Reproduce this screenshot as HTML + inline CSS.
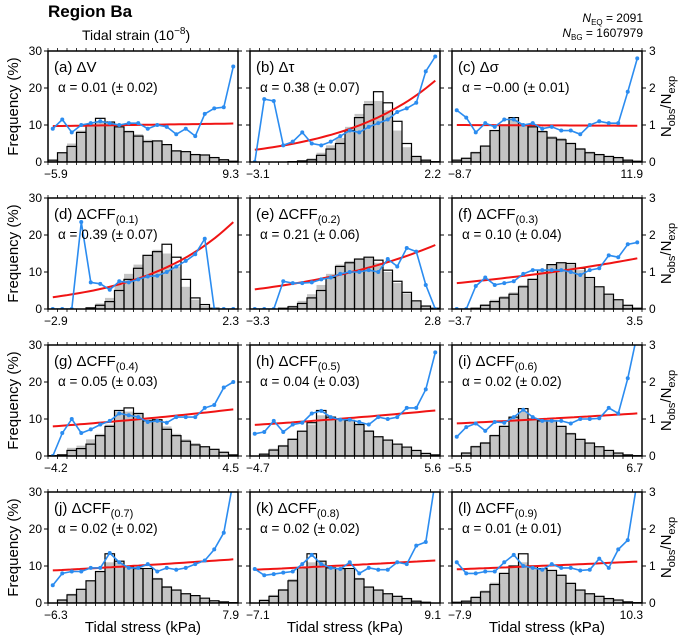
<!DOCTYPE html>
<html><head><meta charset="utf-8"><style>
body{margin:0;background:#fff}
svg{font-family:"Liberation Sans",sans-serif;display:block}
</style></head><body>
<svg id="chart" width="685" height="640" viewBox="0 0 685 640">
<text x="48" y="17" font-size="17" font-weight="bold">Region Ba</text>
<text x="82" y="40" font-size="14">Tidal strain (10<tspan dy="-6" font-size="10">−8</tspan><tspan dy="6">)</tspan></text>
<text x="643" y="22" font-size="12" text-anchor="end"><tspan font-style="italic">N</tspan><tspan font-size="8" dy="3">EQ</tspan><tspan dy="-3"> = 2091</tspan></text>
<text x="643" y="37" font-size="12" text-anchor="end"><tspan font-style="italic">N</tspan><tspan font-size="8" dy="3">BG</tspan><tspan dy="-3"> = 1607979</tspan></text>
<g id="panels"></g>
</svg>
<script>
const labels=["(a) ΔV","(b) Δτ","(c) Δσ","(d) ΔCFF","(e) ΔCFF","(f) ΔCFF","(g) ΔCFF","(h) ΔCFF","(i) ΔCFF","(j) ΔCFF","(k) ΔCFF","(l) ΔCFF"];
const subs=["","","","(0.1)","(0.2)","(0.3)","(0.4)","(0.5)","(0.6)","(0.7)","(0.8)","(0.9)"];
const alphas=["α = 0.01 (± 0.02)","α = 0.38 (± 0.07)","α = −0.00 (± 0.01)","α = 0.39 (± 0.07)","α = 0.21 (± 0.06)","α = 0.10 (± 0.04)","α = 0.05 (± 0.03)","α = 0.04 (± 0.03)","α = 0.02 (± 0.02)","α = 0.02 (± 0.02)","α = 0.02 (± 0.02)","α = 0.01 (± 0.01)"];
const xMinLabels=["−5.9","−3.1","−8.7","−2.9","−3.3","−3.7","−4.2","−4.7","−5.5","−6.3","−7.1","−7.9"];
const xMaxLabels=["9.3","2.2","11.9","2.3","2.8","3.5","4.5","5.6","6.7","7.9","9.1","10.3"];
const freqTicks=[0,10,20,30];
const ratioTicks=[0,1,2,3];
const obsFreq=[
[0.5,2.5,4.2,8,10,11.8,10.8,9.5,8.2,7,5.5,5.7,4.7,3,2.8,2,1.9,1.2,0.6,0.2],
[0,0,0,0,0.1,0.3,0.6,1.8,3.5,5,8.5,12,15.5,19,16,11,5,1.5,0.5,0.1],
[0.5,1,2.5,4.3,8.5,10,12,10,9.5,8.2,6.5,6,5,3.5,2.5,2,1.5,1.2,0.5,0.2],
[0,0,0,0,0.3,1,2,5,8,11,14.5,15.5,17.5,14,8,3,1.2,0.2,0,0],
[0,0,0,0.2,0.6,1.5,3,5,8.5,11.5,12.5,13.5,14,13.2,10.5,7.5,4.5,2.2,0.8,0.2],
[0,0,0.2,1,2,3,4,6,8,10.5,12,12.5,12.3,11,8.5,6,4,2.5,1,0.2],
[0.1,0.3,1.5,2,3.2,5.5,8,12.3,13,11.5,9.5,9.8,7.2,5.5,4,3,2.5,1.8,1,0.3],
[0,0.5,1.6,2.7,4.5,6.7,9,12.3,10.5,10,9.6,8.5,6.7,5.2,4.3,3.2,2.4,1.5,0.7,0.3],
[0,0.8,2.5,3.5,5.5,8,10.5,12.8,10,9.5,9.5,8,6,4.5,3.5,2.5,1.5,0.8,0.3,0.1],
[0,0.8,2.2,3.7,6,8.5,13.3,11.3,9.8,9.3,9.3,6.5,4.3,3.5,2.5,2,1.3,0.6,0.3,0.1],
[0,0.7,1.8,3.5,6,9.5,13.3,11.3,9.5,9.3,9.3,6.5,4.3,3.5,2.5,1.8,1.2,0.5,0.2,0],
[0.2,0.5,1.5,3,5,8,10,13.3,10,9.3,8.8,7.5,5.3,3.5,2.5,1.8,1.2,0.8,0.3,0.1]];
const expFreq=[
[0.5,2.5,5,8.5,10,11,10.5,9.5,8.5,7.5,6,5.8,4.8,3.2,2.8,2.2,1.8,1.2,0.8,0.3],
[0,0,0,0,0.1,0.3,1,2.5,4.5,6.5,9.5,13,16.5,16.5,14,8.5,4,1.5,0.4,0.1],
[0.5,1.2,2.8,4.5,8.5,10,11.5,10,9.5,8.5,7,6.5,5.2,3.8,2.8,2.2,1.6,1.2,0.6,0.2],
[0,0,0,0,0.5,1.5,3,6.5,9.5,12,14.5,16,15,11.5,6,2.5,0.8,0.2,0,0],
[0,0,0,0.3,0.9,2.2,4,6.5,9.5,12,13,13.5,13.8,12.5,10,7,4.2,2,0.8,0.2],
[0,0,0.3,1.3,2.5,3.5,4.5,6.5,8.2,10.5,12,12.3,12,10.5,8.2,5.8,3.8,2.3,1,0.2],
[0.1,0.5,2.2,2.8,4.5,6,8.5,12,12,11.5,10,9.5,8,6,4.5,3.5,2.5,1.8,1.2,0.4],
[0,0.7,2,3,4.8,6.8,8.5,11,10.5,10,9.5,8.8,7,5.2,4.3,3,2.2,1.4,0.6,0.2],
[0,1,2.8,3.8,5.8,8.2,10.3,12,10,9.8,9.6,8.2,6.3,4.5,3.5,2.3,1.3,0.7,0.2,0.1],
[0,1,2.5,3.8,6,8.5,11,11,10,9.5,9,6.8,4.6,3.6,2.5,1.9,1.1,0.4,0.2,0.1],
[0,0.9,2.2,3.8,6.5,9.5,11,11,9.8,9.5,9,6.8,4.5,3.6,2.4,1.6,1.1,0.4,0.2,0],
[0.2,0.6,1.8,3.4,5.5,8,9.5,11,10.2,9.5,8.8,7.5,5.5,3.6,2.5,1.6,1.1,0.6,0.2,0.1]];
const ratio=[
[0.9,1.15,0.8,1.0,1.05,1.1,1.05,1.0,1.05,1.05,0.9,1.0,0.95,0.75,0.9,0.7,1.3,1.45,1.48,2.58],
[0,1.7,1.65,0.45,0.55,0.8,0.5,0.45,0.55,0.7,0.85,0.8,0.95,1.05,1.15,1.35,1.45,1.6,2.45,2.85],
[1.4,1.2,0.8,1.05,0.95,1.15,1.15,1.0,1.05,0.9,0.95,0.85,0.85,0.75,1.0,1.1,1.05,1.05,1.9,2.8],
[0,0,0,2.35,0.72,0.68,0.52,0.75,0.72,0.8,0.88,0.9,1.0,1.15,1.3,1.48,1.9,0,0,0],
[0,0,0,0.75,0.7,0.7,0.72,0.8,0.85,0.95,1.0,1.0,1.05,1.0,1.35,1.15,1.65,1.55,0.65,0],
[0,0,0.62,0.85,0.65,0.7,0.75,0.95,1.05,1.05,1.05,1.05,1.0,0.92,1.05,1.1,1.45,1.4,1.75,1.8],
[0,0.62,1.0,0.62,0.72,0.85,0.95,1.15,1.1,1.05,0.92,0.95,0.9,1.05,1.05,1.05,1.3,1.38,1.85,2.0],
[0.6,0.65,0.95,0.65,0.85,0.9,1.15,1.22,1.05,0.98,0.98,0.92,0.85,1.05,1.0,1.05,1.3,1.3,1.8,2.8],
[0.52,0.78,0.88,0.68,0.92,0.9,1.05,1.25,1.05,0.95,0.95,0.95,0.88,1.0,1.0,1.02,1.3,1.15,2.1,3.3],
[0.48,0.8,0.85,0.85,0.95,0.95,1.35,1.1,0.95,0.95,1.05,0.85,0.95,0.9,0.95,1.05,1.15,1.45,1.9,3.3],
[0.92,0.75,0.78,0.82,0.85,1.05,1.3,1.05,0.95,0.92,1.1,0.8,0.95,0.9,0.9,1.1,1.05,1.55,1.65,3.3],
[1.1,0.8,0.8,0.85,0.85,1.1,1.3,1.0,0.95,0.9,1.05,0.95,0.95,0.88,0.9,1.2,0.95,1.45,1.7,3.3]];
const fitStart=[0.97,0.33,1.0,0.32,0.53,0.7,0.8,0.84,0.88,0.88,0.9,0.91];
const fitEnd=[1.04,2.2,0.98,2.35,1.73,1.37,1.26,1.23,1.15,1.18,1.15,1.12];

const NS="http://www.w3.org/2000/svg";
const lefts=[48,250,452], tops=[51,198,345,492], W=190, H=111, NB=20;
const root=document.getElementById('panels');
function mk(tag,attrs,parent){const e=document.createElementNS(NS,tag);for(const k in attrs)e.setAttribute(k,attrs[k]);(parent||root).appendChild(e);return e;}

for(let p=0;p<12;p++){
  const col=p%3,row=Math.floor(p/3),L=lefts[col],T=tops[row];
  const xs=i=>L+i*W/NB;
  const yf=v=>T+H-Math.min(v,30)/30*H;
  const yr=v=>T+H-v/3*H;
  const g=mk('g',{});
  
  
  const clipId='clip'+p;
  const cp=mk('clipPath',{id:clipId},g);mk('rect',{x:L,y:T,width:W,height:H},cp);
  const inner=mk('g',{'clip-path':'url(#'+clipId+')'},g);
  expFreq[p].forEach((v,i)=>{
    const r=mk('rect',{x:xs(i),y:yf(v),width:W/NB,height:T+H-yf(v),fill:'#c4c4c4'},inner);
    
    
  });
  obsFreq[p].forEach((v,i)=>{
    if(v<=0)return;
    const r=mk('rect',{x:xs(i),y:yf(v),width:W/NB,height:T+H-yf(v),fill:'none',stroke:'#000','stroke-width':1.2},inner);
    
    
  });
  let d='';const t0=0.5/NB,t1=1-0.5/NB;
  for(let k=0;k<=40;k++){const t=k/40;const v=fitStart[p]*Math.pow(fitEnd[p]/fitStart[p],t);const x=L+(t0+(t1-t0)*t)*W;d+=(k?'L':'M')+x.toFixed(1)+','+yr(v).toFixed(1);}
  const fit=mk('path',{d:d,fill:'none',stroke:'#f01414','stroke-width':2},inner);
  
  
  const pts=ratio[p].map((v,i)=>[L+(i+0.5)*W/NB,yr(v)]);
  const line=mk('polyline',{points:pts.map(q=>q.map(n=>n.toFixed(1)).join(',')).join(' '),fill:'none',stroke:'#2b8cf0','stroke-width':1.6},inner);
  
  
  pts.forEach(q=>{
    const c=mk('circle',{cx:q[0],cy:q[1],r:2,fill:'#2b8cf0'},inner);
    
    
  });
  const fr=mk('rect',{x:L,y:T,width:W,height:H,fill:'none',stroke:'#000','stroke-width':1.5},g);
  
  
  freqTicks.forEach(v=>{const y=yf(v);mk('line',{x1:L-4,x2:L,y1:y,y2:y,stroke:'#000','stroke-width':1},g);mk('line',{x1:L+W,x2:L+W+4,y1:y,y2:y,stroke:'#000','stroke-width':1},g);});
  for(let i=0;i<=NB;i++){mk('line',{x1:xs(i),x2:xs(i),y1:T-3,y2:T,stroke:'#000','stroke-width':0.8},g);mk('line',{x1:xs(i),x2:xs(i),y1:T+H,y2:T+H+3,stroke:'#000','stroke-width':0.8},g);}
  if(col===0) freqTicks.forEach(v=>{const t=mk('text',{x:L-6,y:yf(v)+4,'font-size':12,'text-anchor':'end'},g);t.textContent=v;});
  if(col===2) ratioTicks.forEach(v=>{const t=mk('text',{x:L+W+7,y:yr(v)+4,'font-size':12},g);t.textContent=v;});
  const a=mk('text',{x:L-4,y:T+H+16,'font-size':12,'text-anchor':'start'},g);a.textContent=xMinLabels[p];
  
  
  const b=mk('text',{x:L+W+1,y:T+H+16,'font-size':12,'text-anchor':'end'},g);b.textContent=xMaxLabels[p];
  
  
  const tl=mk('text',{x:L+6,y:T+21,'font-size':15},g);
  
  
  tl.appendChild(document.createTextNode(labels[p]));
  if(subs[p]){const s=mk('tspan',{'font-size':11,dy:4},tl);s.textContent=subs[p];}
  const al=mk('text',{x:L+10,y:T+41,'font-size':13.5},g);al.textContent=alphas[p];
  
  
  if(col===0){const yt=mk('text',{transform:`translate(18,${T+H/2}) rotate(-90)`,'font-size':15,'text-anchor':'middle'},g);yt.textContent='Frequency (%)';
    
    }
  if(col===2){const yt=mk('text',{transform:`translate(671,${T+H/2}) rotate(-90)`,'font-size':15,'text-anchor':'middle'},g);
    
    
    yt.appendChild(document.createTextNode('N'));const s1=mk('tspan',{'font-size':11,dy:4},yt);s1.textContent='obs';const s2=mk('tspan',{dy:-4},yt);s2.textContent='/N';const s3=mk('tspan',{'font-size':11,dy:4},yt);s3.textContent='exp';}
  if(row===3){const xt=mk('text',{x:L+W/2,y:632,'font-size':15,'text-anchor':'middle'},g);xt.textContent='Tidal stress (kPa)';
    
    }
}
</script>
</body></html>
